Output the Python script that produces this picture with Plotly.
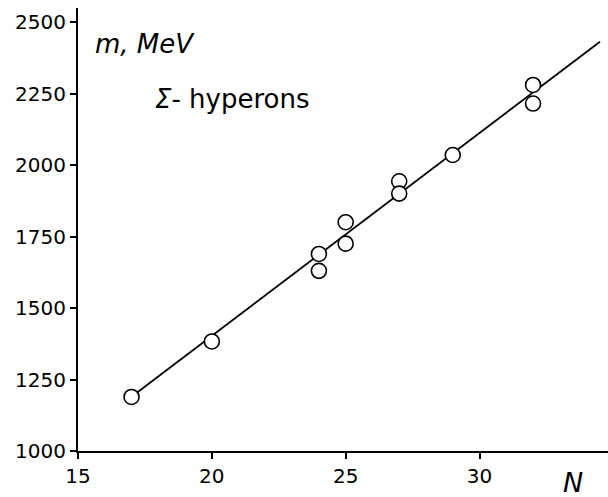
import plotly.graph_objects as go

N_vals = [17, 20, 24, 24, 25, 25, 27, 27, 29, 32, 32]
m_vals = [1189, 1383, 1689, 1630, 1800, 1725, 1943, 1900, 2035, 2280, 2215]
fit_N = [17, 34.5]
fit_m = [1190, 2431]
x_ticks = [15, 20, 25, 30]
y_ticks = [1000, 1250, 1500, 1750, 2000, 2250, 2500]

fig = go.Figure()
fig.add_trace(go.Scatter(x=fit_N, y=fit_m, mode="lines",
                         line=dict(color="black", width=1.8), showlegend=False))
fig.add_trace(go.Scatter(x=N_vals, y=m_vals, mode="markers",
                         marker=dict(size=15, color="white",
                                     line=dict(color="black", width=1.6)),
                         showlegend=False))

font = dict(family="DejaVu Sans", color="black")
W, H = 608, 497
l, r, t, b = 78, 0, 8, 46
pw, ph = W - l - r, H - t - b


def px2paper(px, py):
    return (px - l) / pw, 1 - (py - t) / ph


ann_specs = [
    (93, 44, "<i>m, MeV</i>", 26, "left"),
    (153, 99, "<i>Σ</i>- hyperons", 26, "left"),
    (573, 482, "<i>N</i>", 27, "center"),
]
annotations = []
for px, py, txt, sz, xa in ann_specs:
    xx, yy = px2paper(px, py)
    annotations.append(dict(x=xx, y=yy, xref="paper", yref="paper", text=txt,
                            showarrow=False, font=dict(size=sz, **font),
                            xanchor=xa, yanchor="middle"))

fig.update_layout(
    width=W, height=H,
    margin=dict(l=l, r=r, t=t, b=b),
    plot_bgcolor="white", paper_bgcolor="white",
    font=dict(family="DejaVu Sans", size=20, color="black"),
    xaxis=dict(range=[15, 34.8], tickvals=x_ticks, ticks="outside", ticklen=6,
               tickwidth=1.5, tickcolor="black", showline=True, linecolor="black",
               linewidth=2, showgrid=False, zeroline=False,
               tickfont=dict(size=20)),
    yaxis=dict(range=[1000, 2549], tickvals=y_ticks, ticks="outside", ticklen=6,
               tickwidth=1.5, tickcolor="black", showline=True, linecolor="black",
               linewidth=2, showgrid=False, zeroline=False,
               tickfont=dict(size=20)),
    annotations=annotations,
)

fig.write_html("out.html")
